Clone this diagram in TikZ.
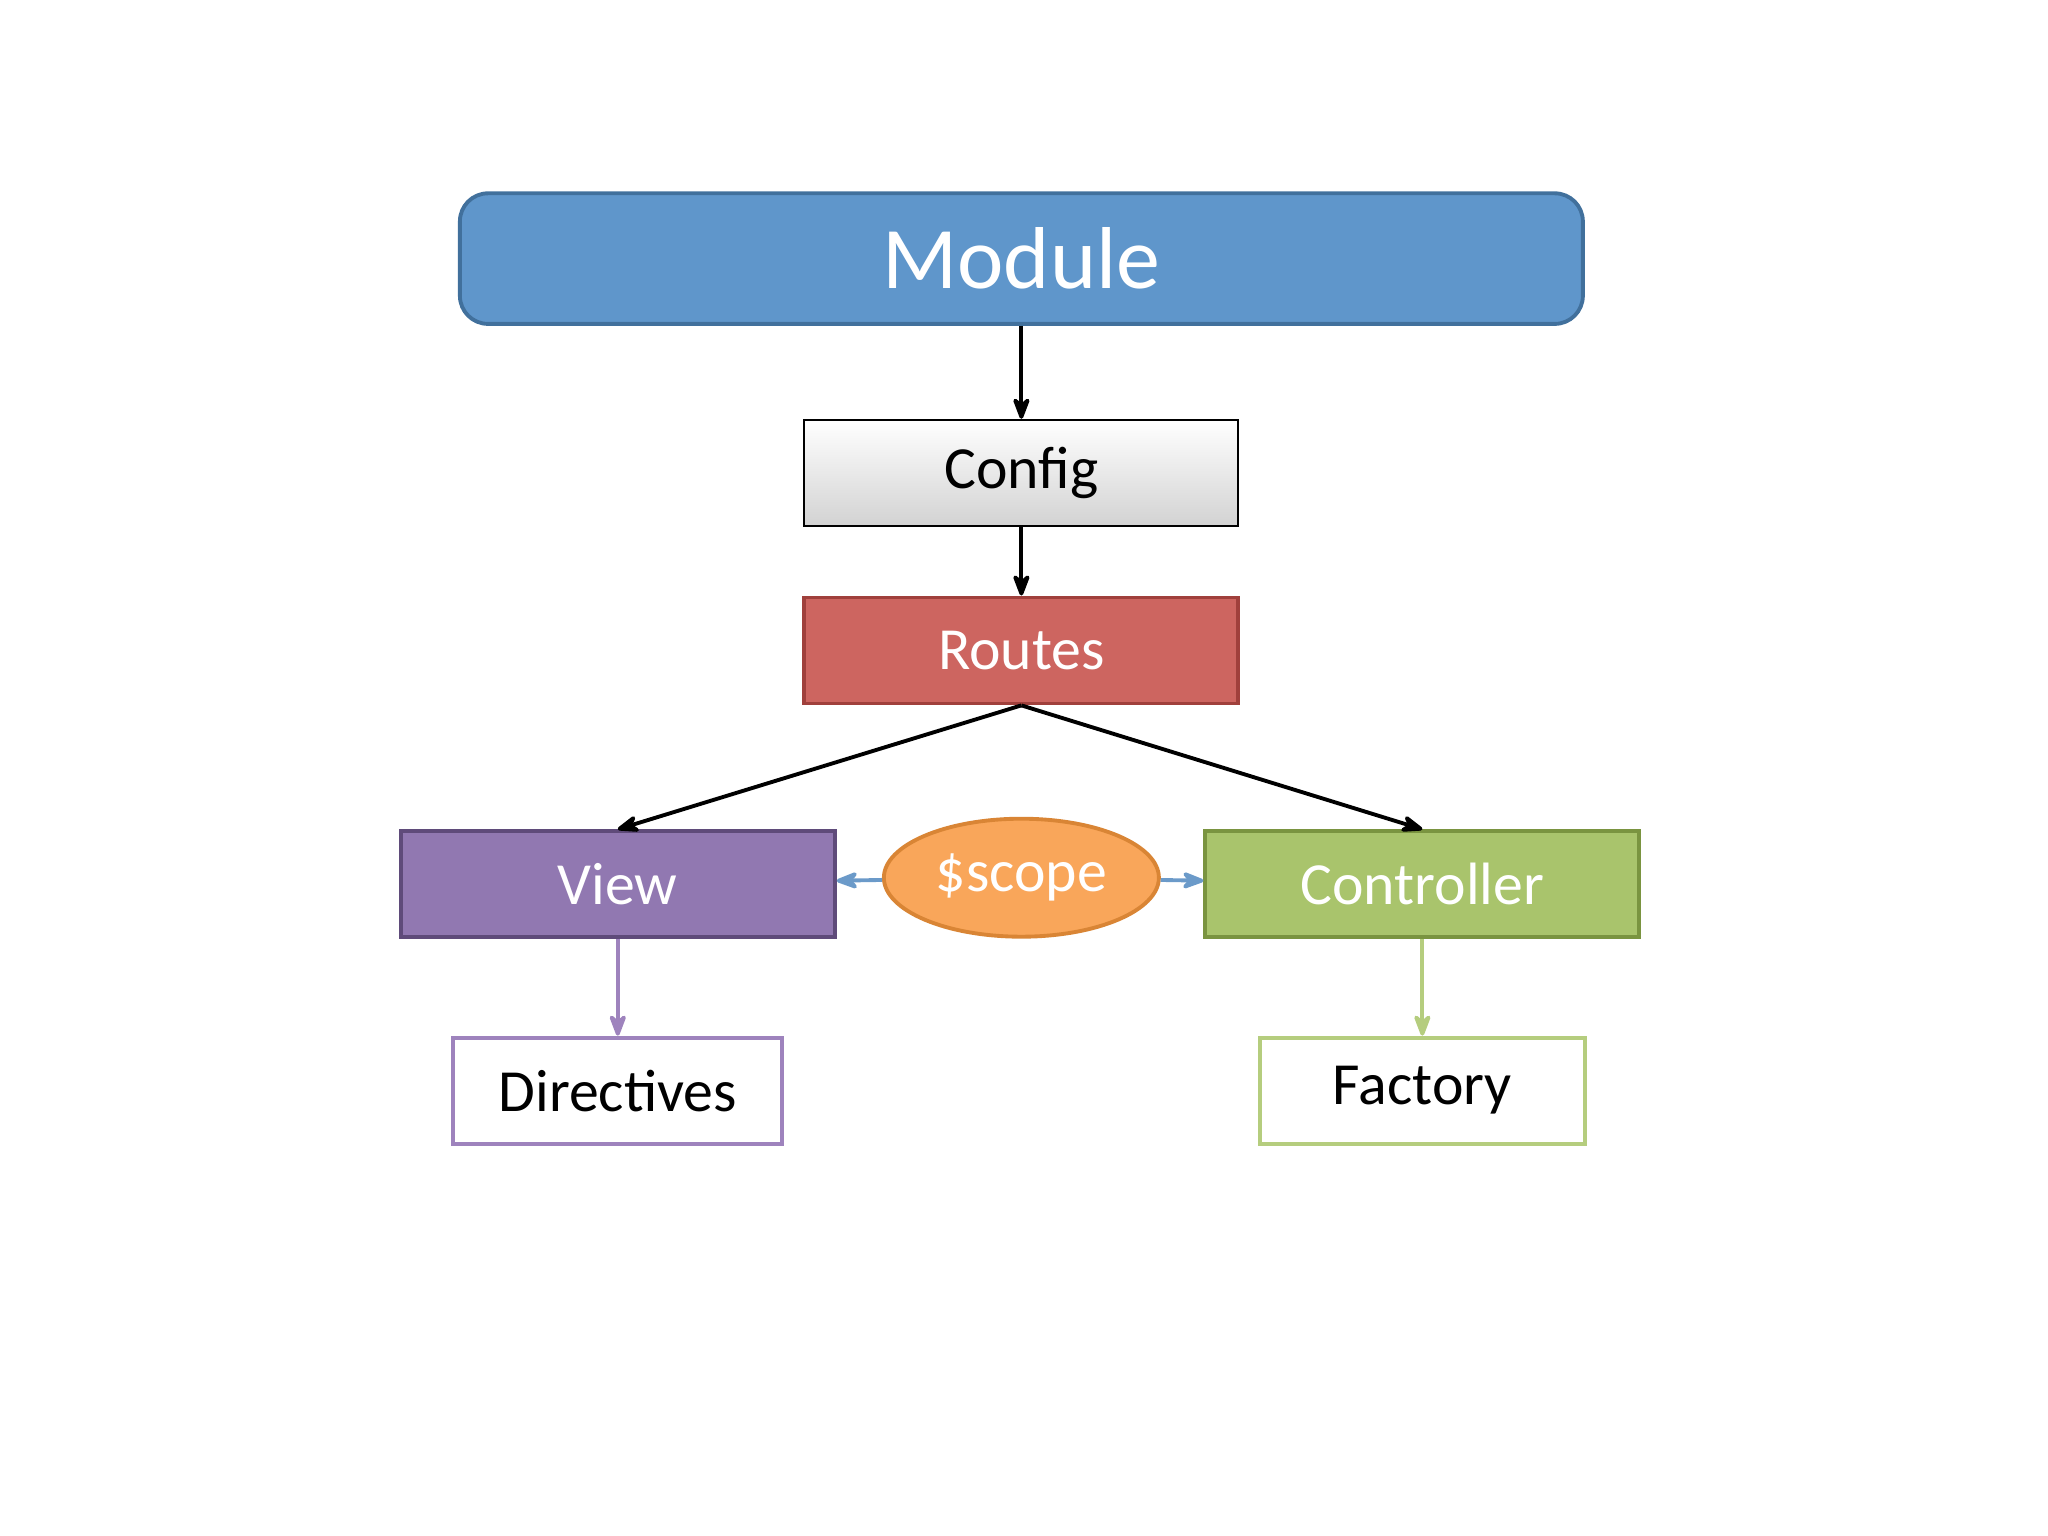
\documentclass[tikz,border=0pt]{standalone}
\usepackage{fontspec}
\setmainfont{Carlito}
\usetikzlibrary{positioning, arrows.meta, shapes.geometric}

\definecolor{moduleblue}{HTML}{5F96CB}
\definecolor{moduleedge}{HTML}{41709C}
\definecolor{routesred}{HTML}{CD6560}
\definecolor{routesedge}{HTML}{A0403C}
\definecolor{viewpurple}{HTML}{9178B1}
\definecolor{viewedge}{HTML}{5F4B7A}
\definecolor{scopeorange}{HTML}{F9A65A}
\definecolor{scopeedge}{HTML}{D98535}
\definecolor{ctrlgreen}{HTML}{A9C46C}
\definecolor{ctrledge}{HTML}{7A9440}
\definecolor{dirlight}{HTML}{9E83BD}
\definecolor{factlight}{HTML}{B5CD7E}
\definecolor{scopearrow}{HTML}{6B9AC9}

\begin{document}
\begin{tikzpicture}[
		x=0.013061cm, y=-0.013061cm,
		>={Stealth[round]}, % Arrow style
		every node/.style={minimum width=4.34cm, minimum height=1.06cm, line width=1.1pt, font=\fontsize{17}{20}\selectfont},
		flow/.style={->, line width=1.1pt, black}
	]
	\useasboundingbox (0,0) rectangle (1568,1176);

	% Top node
	\node[draw=moduleedge, fill=moduleblue, rounded corners=8pt, minimum width=11.23cm, minimum height=1.306cm, text=white, font=\fontsize{25}{30}\selectfont] (module) at (782,198) {Module};

	% Chain below module
	\node[draw=black, line width=0.6pt, top color=white, bottom color=gray!35] (config) at (782,362) {Config};
	\node[draw=routesedge, fill=routesred, text=white] (routes) at (782,498) {Routes};

	% Middle row
	\node[draw=viewedge, fill=viewpurple, text=white] (view) at (473,677) {View};
	\node[ellipse, draw=scopeedge, fill=scopeorange, text=white, minimum width=2.69cm, minimum height=1.18cm] (scope) at (782,672) {\$scope};
	\node[draw=ctrledge, fill=ctrlgreen, text=white] (controller) at (1089,677) {Controller};

	% Bottom row
	\node[draw=dirlight, fill=white, minimum width=3.29cm] (directives) at (473,835) {Directives};
	\node[draw=factlight, fill=white, minimum width=3.25cm] (factory) at (1089,835) {Factory};

	% Connectors
	\draw[flow] (module) -- (config);
	\draw[flow] (config) -- (routes);
	\draw[flow] (routes.south) -- (view.north);
	\draw[flow] (routes.south) -- (controller.north);
	\draw[flow, scopearrow] (scope) -- (view);
	\draw[flow, scopearrow] (scope) -- (controller);
	\draw[flow, dirlight] (view) -- (directives);
	\draw[flow, factlight] (controller) -- (factory);

\end{tikzpicture}
\end{document}
